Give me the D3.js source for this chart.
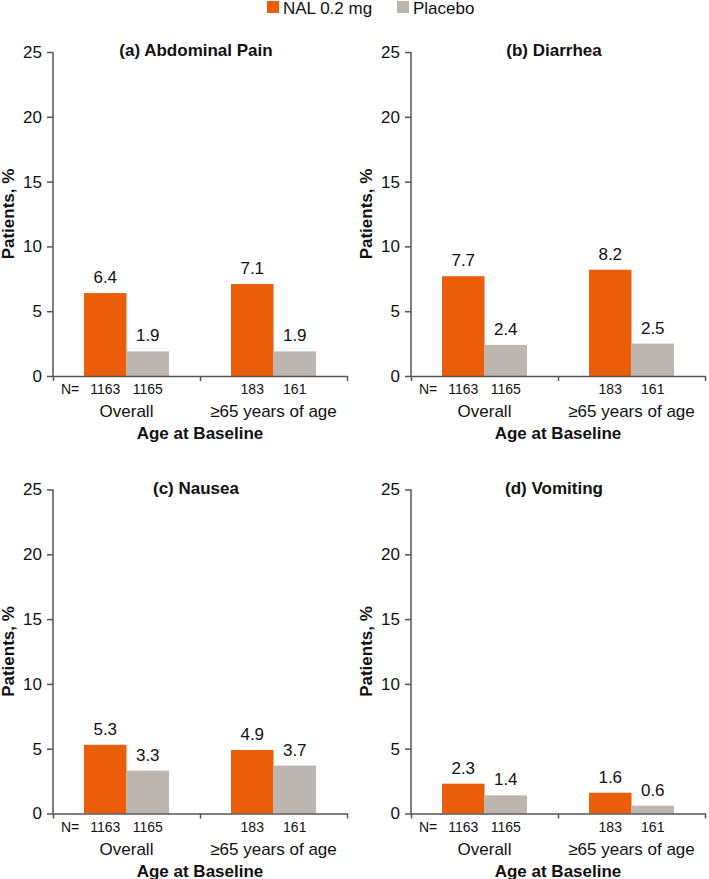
<!DOCTYPE html>
<html>
<head>
<meta charset="utf-8">
<script src="https://cdn.jsdelivr.net/npm/d3@7"></script>
<style>
  body { margin: 0; background: #fff; }
  svg text { font-family: "Liberation Sans", Arial, sans-serif; fill: #111; }
</style>
</head>
<body>
<div id="elements"></div>
<script>
'use strict';

// chart data
var groups = ["Overall", "\u226565 years of age"];
var seriesNames = ["NAL 0.2 mg", "Placebo"];
var seriesColors = ["#EA5D0B", "#BDB5AF"];
var panelTitles = ["(a) Abdominal Pain", "(b) Diarrhea", "(c) Nausea", "(d) Vomiting"];
var nalValues = [[6.4, 7.1], [7.7, 8.2], [5.3, 4.9], [2.3, 1.6]];
var placeboValues = [[1.9, 1.9], [2.4, 2.5], [3.3, 3.7], [1.4, 0.6]];
var nalN = [1163, 183];
var placeboN = [1165, 161];
var yTicks = [0, 5, 10, 15, 20, 25];

var svg = d3.select("#elements").append("svg")
    .attr("width", 709)
    .attr("height", 879);

// legend
var legend = svg.append("g");
var legendX = [267, 397];
seriesNames.forEach(function(name, i) {
    legend.append("rect")
        .attr("x", legendX[i]).attr("y", 1)
        .attr("width", 12).attr("height", 12)
        .attr("fill", seriesColors[i]);
    legend.append("text")
        .attr("x", legendX[i] + 16).attr("y", 14)
        .style("font-size", "17px")
        .text(name);
});

var width = 294, height = 324;
var panelPos = [[53, 52], [411, 52], [53, 489.5], [411, 489.5]];

var y = d3.scaleLinear().domain([0, 25]).range([height, 0]);
var x0 = d3.scaleBand().domain(groups).range([0, width]);
var x1 = d3.scaleBand().domain(seriesNames).range([0, x0.bandwidth()]).paddingOuter(0.73);
var xLine = d3.scaleLinear().domain([0, groups.length]).range([0, width]);

panelTitles.forEach(function(title, p) {
    var g = svg.append("g")
        .attr("transform", "translate(" + panelPos[p][0] + "," + panelPos[p][1] + ")");

    var rows = groups.map(function(grp, i) {
        return {group: grp, values: [
            {key: seriesNames[0], value: nalValues[p][i], n: nalN[i]},
            {key: seriesNames[1], value: placeboValues[p][i], n: placeboN[i]}
        ]};
    });

    var groupG = g.selectAll("g.grp")
        .data(rows)
        .enter().append("g")
            .attr("class", "grp")
            .attr("transform", function(d) { return "translate(" + x0(d.group) + ",0)"; });

    groupG.selectAll("rect")
        .data(function(d) { return d.values; })
        .enter().append("rect")
            .attr("x", function(d) { return x1(d.key); })
            .attr("width", x1.bandwidth())
            .attr("y", function(d) { return y(d.value); })
            .attr("height", function(d) { return y(0) - y(d.value); })
            .attr("fill", function(d, i) { return seriesColors[i]; });

    // value labels
    groupG.selectAll("text.val")
        .data(function(d) { return d.values; })
        .enter().append("text")
            .attr("class", "val")
            .attr("x", function(d) { return x1(d.key) + x1.bandwidth() / 2; })
            .attr("y", function(d) { return y(d.value) - 10; })
            .attr("text-anchor", "middle")
            .style("font-size", "17px")
            .text(function(d) { return d.value.toFixed(1); });

    // N labels
    groupG.selectAll("text.n")
        .data(function(d) { return d.values; })
        .enter().append("text")
            .attr("class", "n")
            .attr("x", function(d) { return x1(d.key) + x1.bandwidth() / 2; })
            .attr("y", height + 18)
            .attr("text-anchor", "middle")
            .style("font-size", "14px")
            .text(function(d) { return d.n; });

    groupG.append("text")
        .attr("x", x0.bandwidth() / 2)
        .attr("y", height + 41)
        .attr("text-anchor", "middle")
        .style("font-size", "17px")
        .text(function(d) { return d.group; });

    g.append("text")
        .attr("x", 8)
        .attr("y", height + 18)
        .style("font-size", "14px")
        .text("N=");

    // axes
    var yAxis = g.append("g")
        .call(d3.axisLeft(y).tickValues(yTicks).tickSize(6).tickPadding(5));
    var xAxis = g.append("g")
        .attr("transform", "translate(0," + height + ")")
        .call(d3.axisBottom(xLine).tickValues(d3.range(groups.length + 1)).tickSize(5).tickFormat("").tickSizeOuter(0));
    [yAxis, xAxis].forEach(function(a) {
        a.selectAll("path, line").attr("stroke", "#555").attr("stroke-width", 1.5);
        a.selectAll("text").style("font-size", "17px").style("font-family", "Liberation Sans, Arial, sans-serif").attr("fill", "#111");
    });
    yAxis.select(".domain").attr("d", "M0," + height + "V0");

    g.append("text")
        .attr("x", width / 2 - 4)
        .attr("y", 4)
        .attr("text-anchor", "middle")
        .style("font-size", "17px")
        .style("font-weight", "bold")
        .text(title);

    g.append("text")
        .attr("x", width / 2)
        .attr("y", height + 63)
        .attr("text-anchor", "middle")
        .style("font-size", "17px")
        .style("font-weight", "bold")
        .text("Age at Baseline");

    g.append("text")
        .attr("transform", "rotate(-90)")
        .attr("x", -height / 2)
        .attr("y", -39)
        .attr("text-anchor", "middle")
        .style("font-size", "17px")
        .style("font-weight", "bold")
        .text("Patients, %");
});
</script>
</body>
</html>
